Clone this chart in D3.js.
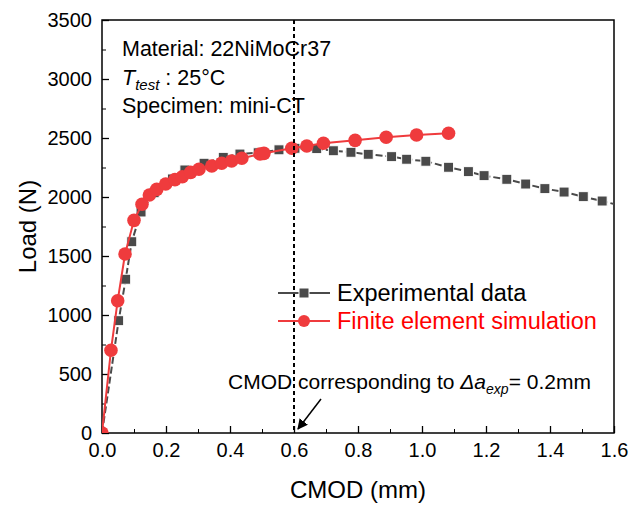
<!DOCTYPE html>
<html>
<head>
<meta charset="utf-8">
<script src="https://cdn.jsdelivr.net/npm/d3@7"></script>
<style>
  body { margin: 0; background: #fff; }
  text { font-family: Arial, "Liberation Sans", sans-serif; }
</style>
</head>
<body>
<div id="chart"></div>
<script>
// experimental data (CMOD mm, load N)
const expCmod = [0, 0.052, 0.074, 0.093, 0.122, 0.163, 0.220, 0.259, 0.319, 0.379, 0.431, 0.488, 0.553, 0.603,
  0.671, 0.723, 0.778, 0.832, 0.905, 0.952, 1.012, 1.083, 1.145, 1.194, 1.265, 1.324, 1.384, 1.444, 1.504, 1.563, 1.622];
const expLoad = [0, 952, 1303, 1621, 1873, 2036, 2153, 2229, 2286, 2336, 2364, 2375, 2400, 2413,
  2410, 2392, 2379, 2362, 2342, 2320, 2303, 2252, 2215, 2181, 2150, 2110, 2071, 2042, 2003, 1966, 1925];

// finite element simulation
const simCmod = [0, 0.028, 0.049, 0.072, 0.100, 0.125, 0.148, 0.171, 0.199, 0.228, 0.251, 0.277, 0.303, 0.343,
  0.374, 0.405, 0.437, 0.494, 0.506, 0.593, 0.640, 0.692, 0.791, 0.888, 0.983, 1.083];
const simLoad = [0, 701, 1121, 1517, 1802, 1938, 2017, 2065, 2110, 2147, 2172, 2209, 2235, 2263,
  2286, 2305, 2328, 2364, 2370, 2413, 2432, 2455, 2480, 2506, 2525, 2540];

const xTicks = [0, 0.2, 0.4, 0.6, 0.8, 1.0, 1.2, 1.4, 1.6];
const yTicks = [0, 500, 1000, 1500, 2000, 2500, 3000, 3500];
const markCmod = 0.6;

const expData = expCmod.map((d, i) => ({ x: d, y: expLoad[i] }));
const simData = simCmod.map((d, i) => ({ x: d, y: simLoad[i] }));

const width = 631, height = 506;
const margin = { top: 20, right: 17, bottom: 73, left: 102 };
const expColor = "#4a4a4a", simColor = "#ef3b3d";

const svg = d3.select("#chart").append("svg")
  .attr("width", width)
  .attr("height", height);

const x = d3.scaleLinear().domain([0, 1.6]).range([margin.left, width - margin.right]);
const y = d3.scaleLinear().domain([0, 3500]).range([height - margin.bottom, margin.top]);

svg.append("clipPath").attr("id", "clip")
  .append("rect")
  .attr("x", x(0)).attr("y", y(3500))
  .attr("width", x(1.6) - x(0)).attr("height", y(0) - y(3500));

// minor ticks
svg.append("g")
  .attr("transform", `translate(0,${y(0)})`)
  .call(d3.axisBottom(x).tickValues(d3.range(0.1, 1.6, 0.2)).tickSize(-4).tickFormat(""))
  .call(g => g.select(".domain").remove());
svg.append("g")
  .attr("transform", `translate(${x(0)},0)`)
  .call(d3.axisLeft(y).tickValues(d3.range(250, 3500, 500)).tickSize(-4).tickFormat(""))
  .call(g => g.select(".domain").remove());

// major ticks + labels
const xAxis = svg.append("g")
  .attr("transform", `translate(0,${y(0)})`)
  .call(d3.axisBottom(x).tickValues(xTicks).tickSize(-7).tickPadding(10).tickFormat(d3.format(".1f")));
xAxis.select(".domain").remove();
xAxis.selectAll("text").style("font-size", "20px").attr("fill", "#000");
xAxis.selectAll("line").attr("stroke-width", 1.3);

const yAxis = svg.append("g")
  .attr("transform", `translate(${x(0)},0)`)
  .call(d3.axisLeft(y).tickValues(yTicks).tickSize(-7).tickPadding(10).tickFormat(d3.format("d")));
yAxis.select(".domain").remove();
yAxis.selectAll("text").style("font-size", "20px").attr("fill", "#000");
yAxis.selectAll("line").attr("stroke-width", 1.3);

// frame
svg.append("rect")
  .attr("x", x(0)).attr("y", y(3500))
  .attr("width", x(1.6) - x(0)).attr("height", y(0) - y(3500))
  .attr("fill", "none").attr("stroke", "#000").attr("stroke-width", 1.5);

// axis titles
svg.append("text")
  .attr("x", (x(0) + x(1.6)) / 2).attr("y", 498)
  .attr("text-anchor", "middle")
  .style("font-size", "24px")
  .text("CMOD (mm)");

svg.append("text")
  .attr("transform", "rotate(-90)")
  .attr("x", -(y(0) + y(3500)) / 2).attr("y", 36)
  .attr("text-anchor", "middle")
  .style("font-size", "24px")
  .text("Load (N)");

const line = d3.line().x(d => x(d.x)).y(d => y(d.y));
const plot = svg.append("g").attr("clip-path", "url(#clip)");

// experimental series
plot.append("path")
  .datum(expData)
  .attr("fill", "none")
  .attr("stroke", expColor)
  .attr("stroke-width", 2)
  .attr("stroke-dasharray", "7,3")
  .attr("d", line);

plot.selectAll(".sq")
  .data(expData)
  .enter()
  .append("rect")
  .attr("class", "sq")
  .attr("x", d => x(d.x) - 5)
  .attr("y", d => y(d.y) - 5)
  .attr("width", 10).attr("height", 10)
  .attr("fill", expColor)
  .attr("stroke", "#fff").attr("stroke-width", 1);

// simulation series
plot.append("path")
  .datum(simData)
  .attr("fill", "none")
  .attr("stroke", simColor)
  .attr("stroke-width", 2)
  .attr("d", line);

plot.selectAll(".dot")
  .data(simData)
  .enter()
  .append("circle")
  .attr("class", "dot")
  .attr("cx", d => x(d.x))
  .attr("cy", d => y(d.y))
  .attr("r", 6.8)
  .attr("fill", simColor);

// vertical marker at CMOD 0.6
svg.append("line")
  .attr("x1", x(markCmod)).attr("x2", x(markCmod))
  .attr("y1", y(3500)).attr("y2", y(0))
  .attr("stroke", "#000").attr("stroke-width", 2)
  .attr("stroke-dasharray", "4,3");

// info text
const info = svg.append("g").style("font-size", "21.5px");
info.append("text").attr("x", 122).attr("y", 56).text("Material: 22NiMoCr37");
const tt = info.append("text").attr("x", 122).attr("y", 85);
tt.append("tspan").style("font-style", "italic").text("T");
tt.append("tspan").style("font-style", "italic").style("font-size", "15px").attr("dy", 5).text("test");
tt.append("tspan").attr("dy", -5).text(" : 25°C");
info.append("text").attr("x", 122).attr("y", 113).text("Specimen: mini-CT");

// legend
const legend = svg.append("g").attr("transform", "translate(278,293)");
const items = [
  { label: "Experimental data", color: expColor, text: "#000", shape: "sq" },
  { label: "Finite element simulation", color: simColor, text: "#ff0000", shape: "dot" }
];
items.forEach((it, i) => {
  const g = legend.append("g").attr("transform", `translate(0,${i * 28})`);
  g.append("line").attr("x1", 0).attr("x2", 52).attr("y1", 0).attr("y2", 0)
    .attr("stroke", it.color).attr("stroke-width", 2);
  if (it.shape === "sq") {
    g.append("rect").attr("x", 21).attr("y", -5).attr("width", 10).attr("height", 10)
      .attr("fill", it.color).attr("stroke", "#fff").attr("stroke-width", 1);
  } else {
    g.append("circle").attr("cx", 26).attr("cy", 0).attr("r", 6).attr("fill", it.color);
  }
  g.append("text").attr("x", 59).attr("y", 8)
    .style("font-size", "23.5px").attr("fill", it.text)
    .text(it.label);
});

// annotation
const ann = svg.append("text").attr("x", 228).attr("y", 389).style("font-size", "21px");
ann.append("tspan").text("CMOD corresponding to ");
ann.append("tspan").style("font-style", "italic").text("Δa");
ann.append("tspan").style("font-style", "italic").style("font-size", "14px").attr("dy", 5).text("exp");
ann.append("tspan").attr("dy", -5).text("= 0.2mm");

svg.append("defs").append("marker")
  .attr("id", "arrow")
  .attr("viewBox", "0 0 10 10")
  .attr("refX", 9).attr("refY", 5)
  .attr("markerWidth", 7).attr("markerHeight", 7)
  .attr("orient", "auto")
  .append("path").attr("d", "M0,0 L10,5 L0,10 Z").attr("fill", "#000");

svg.append("line")
  .attr("x1", 321).attr("y1", 399)
  .attr("x2", 298).attr("y2", 429)
  .attr("stroke", "#000").attr("stroke-width", 1.5)
  .attr("marker-end", "url(#arrow)");
</script>
</body>
</html>
